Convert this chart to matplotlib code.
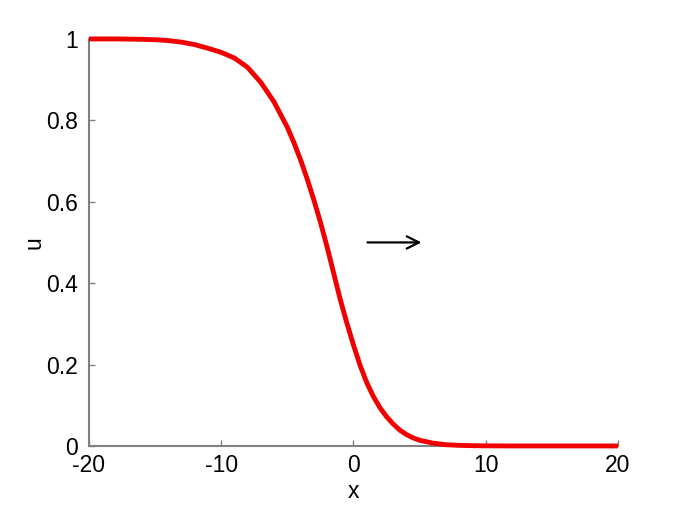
import matplotlib
matplotlib.use('Agg')
import matplotlib.pyplot as plt

# valores (onda viajante u(x))
x_vals = [-20, -18, -16, -15, -14, -13, -12, -11, -10, -9, -8, -7, -6, -5, -4.5,
          -4, -3.5, -3, -2.5, -2, -1.5, -1, -0.5, 0, 0.5, 1, 1.5, 2, 2.5, 3,
          3.5, 4, 4.5, 5, 6, 7, 8, 9, 10, 12, 15, 20]
u_vals = [1.0, 1.0, 0.999, 0.998, 0.996, 0.992, 0.986, 0.977, 0.967, 0.953, 0.93,
          0.893, 0.845, 0.783, 0.745, 0.703, 0.656, 0.605, 0.55, 0.49, 0.425, 0.36,
          0.302, 0.248, 0.198, 0.156, 0.122, 0.094, 0.072, 0.054, 0.039, 0.028,
          0.02, 0.014, 0.007, 0.003, 0.0015, 0.0007, 0.0003, 0.0, 0.0, 0.0]

x_ticks = [-20, -10, 0, 10, 20]
u_ticks = [0, 0.2, 0.4, 0.6, 0.8, 1]
u_tick_labels = ['0', '0.2', '0.4', '0.6', '0.8', '1']

plt.rcParams['font.family'] = ['Liberation Sans', 'DejaVu Sans']
plt.rcParams['axes.unicode_minus'] = False

fig = plt.figure(figsize=(6.84, 5.12), dpi=100)
ax = fig.add_axes([0.130, 0.129, 0.7735, 0.795])

ax.plot(x_vals, u_vals, color='#f00000', linewidth=3.5, clip_on=False,
        solid_capstyle='butt', solid_joinstyle='round', zorder=3)

# seta indicando o sentido de propagação
ax.annotate('', xy=(5.14, 0.5), xytext=(1.06, 0.5),
            arrowprops=dict(arrowstyle='->', color='black', lw=1.6,
                            mutation_scale=22, shrinkA=0, shrinkB=0))

ax.set_xlim(-20, 20)
ax.set_ylim(0, 1)
ax.set_xticks(x_ticks)
ax.set_xticklabels([str(t) for t in x_ticks])
ax.set_yticks(u_ticks)
ax.set_yticklabels(u_tick_labels)

for s in ['top', 'right']:
    ax.spines[s].set_visible(False)
for s in ['left', 'bottom']:
    ax.spines[s].set_color('#808080')
    ax.spines[s].set_linewidth(1.5)

ax.tick_params(direction='in', length=4, width=1, color='#808080',
               labelsize=16.5, labelcolor='black')
ax.tick_params(axis='y', pad=8)
ax.tick_params(axis='x', pad=6)

ax.set_xlabel('x', fontsize=16.5, labelpad=2)
ax.set_ylabel('u', fontsize=16.5, labelpad=0)

fig.savefig('out.png', dpi=100)
